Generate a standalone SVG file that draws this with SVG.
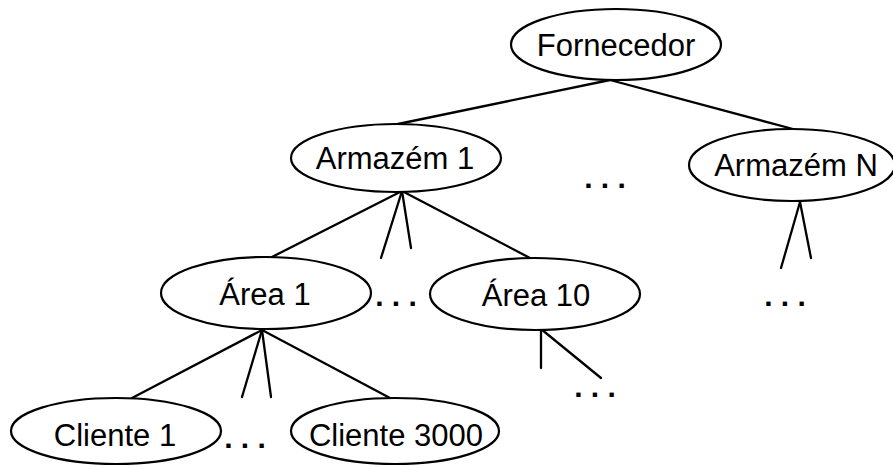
<svg xmlns="http://www.w3.org/2000/svg" width="893" height="466" viewBox="0 0 893 466">
<style>
.n ellipse{fill:#fff;stroke:#000;stroke-width:2.2}
text{font-family:"Liberation Sans",Arial,sans-serif;font-size:31px;fill:#000;text-anchor:middle}
.dots{font-weight:bold;font-size:30px}
#connectors line{stroke:#000;stroke-width:2.3;stroke-linecap:round}
</style>
<rect width="893" height="466" fill="#fff"/>
<g id="connectors">
<line x1="610" y1="80" x2="398" y2="124"/>
<line x1="610" y1="80" x2="793" y2="129"/>
<line x1="402" y1="191" x2="270" y2="258"/>
<line x1="402" y1="191" x2="381" y2="258"/>
<line x1="402" y1="191" x2="411" y2="248"/>
<line x1="402" y1="191" x2="530" y2="258"/>
<line x1="800" y1="202" x2="781" y2="268"/>
<line x1="800" y1="202" x2="811" y2="258"/>
<line x1="262" y1="330" x2="132" y2="398"/>
<line x1="262" y1="330" x2="242" y2="397"/>
<line x1="262" y1="330" x2="271" y2="397"/>
<line x1="262" y1="330" x2="390" y2="398"/>
<line x1="541" y1="329" x2="541" y2="368"/>
<line x1="541" y1="329" x2="601" y2="378"/>
</g>
<g id="fornecedor" class="n"><ellipse cx="616" cy="44.5" rx="105" ry="35.5"/><text x="616" y="56">Fornecedor</text></g>
<g id="armazem1" class="n"><ellipse cx="396" cy="158" rx="105" ry="34"/><text x="395" y="169">Armazém 1</text></g>
<g id="armazemN" class="n"><ellipse cx="792" cy="165" rx="103" ry="36"/><text x="796" y="176">Armazém N</text></g>
<g id="area1" class="n"><ellipse cx="266" cy="293" rx="105" ry="36"/><text x="265" y="305">Área 1</text></g>
<g id="area10" class="n"><ellipse cx="535" cy="294" rx="105" ry="36"/><text x="536" y="306">Área 10</text></g>
<g id="cliente1" class="n"><ellipse cx="116" cy="431" rx="105" ry="33"/><text x="115" y="446">Cliente 1</text></g>
<g id="cliente3000" class="n"><ellipse cx="395" cy="431" rx="104" ry="33"/><text x="396" y="446">Cliente 3000</text></g>
<g id="ellipses" class="dots">
<text class="dots" x="605" y="188">. . .</text>
<text class="dots" x="785" y="306">. . .</text>
<text class="dots" x="396" y="306">. . .</text>
<text class="dots" x="245" y="448">. . .</text>
<text class="dots" x="595" y="397">. . .</text>
</g>
</svg>
